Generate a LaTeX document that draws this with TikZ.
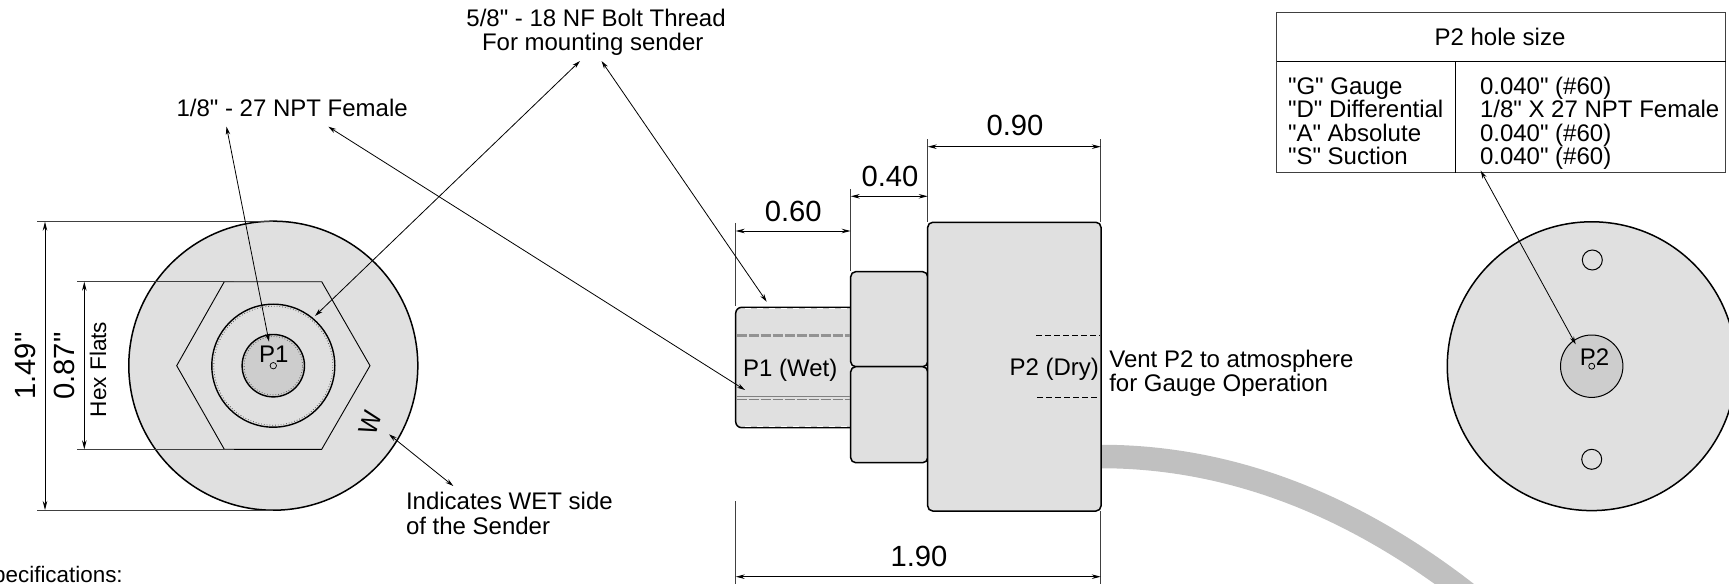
\documentclass[tikz,border=0pt]{standalone}
\usepackage{fontspec}
\newfontfamily\arialish{Liberation Sans}
\usetikzlibrary{arrows.meta}
\definecolor{partfill}{HTML}{E0E0E0}
\definecolor{portfill}{HTML}{CDCDCD}
\definecolor{cablegray}{HTML}{C0C0C0}
\definecolor{extgray}{HTML}{404040}
\tikzset{
  x=1bp,y=-1bp,
  lbl/.style={font=\arialish\fontsize{24bp}{23.4bp}\selectfont,inner sep=0pt,outer sep=0pt,text=black},
  dimlbl/.style={font=\arialish\fontsize{29.2bp}{30bp}\selectfont,inner sep=0pt,outer sep=0pt,text=black},
  part/.style={draw=black,fill=partfill,line width=1.5bp},
  port/.style={draw=black,fill=portfill,line width=1.3bp},
  plain/.style={draw=black,line width=1bp},
  ext/.style={draw=extgray,line width=0.9bp},
  call/.style={draw=black,line width=0.8bp,{Stealth[length=8bp,width=4.5bp]}-{Stealth[length=8bp,width=4.5bp]}},
  dimline/.style={draw=black,line width=0.9bp,{Stealth[length=9bp,width=4.5bp]}-{Stealth[length=9bp,width=4.5bp]}},
  thd/.style={draw=gray!70!black,line width=0.8bp,dotted},
  hid/.style={draw=black,line width=0.7bp,dash pattern=on 6bp off 3bp},
}
\begin{document}
\begin{tikzpicture}
\useasboundingbox (0,0) rectangle (1729,584);
\clip (0,0) rectangle (1729,584);
% cable
\draw[cablegray,line width=23.5bp] (1101,456.5) .. controls (1240,456.5) and (1370,512) .. (1490,612);
% left view
\coordinate (Lc) at (273.3,365.7);
\path[part] (Lc) circle (144.5bp);
\draw[plain,line width=0.9bp] (176.7,365.7) -- (224.3,281.7) -- (321.7,281.7) -- (370,365.7) -- (321.7,449.3) -- (224.3,449.3) -- cycle;
\draw[part,line width=1.4bp] (Lc) circle (61.5bp);
\draw[thd] (Lc) circle (59.5bp);
\draw[port,line width=1.4bp] (Lc) circle (31.2bp);
\draw[thd] (Lc) circle (29.2bp);
\draw[plain,line width=0.7bp] (Lc) circle (3.2bp);
\coordinate (e1a) at (37,221.7); \coordinate (e1b) at (273,221.7);
\coordinate (e2a) at (37,510);   \coordinate (e2b) at (273,510);
\draw[ext] (e1a) -- (e1b); \draw[ext] (e2a) -- (e2b);
\coordinate (e3a) at (77,281.7); \coordinate (e3b) at (234,281.7);
\coordinate (e4a) at (77,449.3); \coordinate (e4b) at (234,449.3);
\draw[ext] (e3a) -- (e3b); \draw[ext] (e4a) -- (e4b);
\draw[dimline] (45,221.7) -- (45,510);
\draw[dimline] (84.3,281.7) -- (84.3,449.3);
\node[dimlbl,rotate=90] (d149) at (25,366) {1.49"};
\node[dimlbl,rotate=90] (d087) at (64,366) {0.87"};
\node[lbl,rotate=90,font=\arialish\fontsize{22.6bp}{23bp}\selectfont] (hexflats) at (98,369.5) {Hex Flats};
\node[lbl,anchor=base] (p1) at (273.8,362) {P1};
\node[lbl,rotate=72] (wmark) at (370,423) {\scalebox{1}[1.1]{W}};
% side view
\draw[part,rounded corners=6bp] (850.7,307.3) -- (735.7,307.3) -- (735.7,427.7) -- (850.7,427.7);
\draw[part,rounded corners=5bp] (850.7,271.7) rectangle (927.7,366.7);
\draw[part,rounded corners=5bp] (850.7,366.7) rectangle (927.7,462.7);
\draw[part,rounded corners=5bp] (927.7,222.3) rectangle (1101,511);
% threads
\draw[draw=white,line width=1bp,dash pattern=on 6bp off 6bp] (745,308.8) -- (850,308.8);
\draw[draw=white,line width=1bp,dash pattern=on 6bp off 6bp] (745,426.2) -- (850,426.2);
\draw[draw=gray!85,line width=3.2bp,dash pattern=on 10bp off 2bp] (736.5,335.7) -- (850,335.7);
\draw[draw=gray,line width=0.9bp] (736.5,396.8) -- (850,396.8);
\draw[draw=gray,line width=1.4bp,dash pattern=on 10bp off 2bp] (736.5,399.5) -- (850,399.5);
\draw[hid] (1036,335) -- (1100,335);
\draw[hid] (1037,397.3) -- (1100,397.3);
\node[lbl,anchor=base west] (p1wet) at (743,376.5) {P1 (Wet)};
\node[lbl,anchor=base west] (p2dry) at (1009.5,375) {P2 (Dry)};
\node[lbl,anchor=base west] (vent1) at (1109.3,367.5) {Vent P2 to atmosphere};
\node[lbl,anchor=base west] (vent2) at (1109.3,391) {for Gauge Operation};
% dims
\draw[ext] (735.7,223) -- (735.7,306);
\draw[ext] (850.7,189) -- (850.7,271);
\draw[ext] (927.7,139.3) -- (927.7,222);
\draw[ext] (1100.8,139.3) -- (1100.8,222);
\draw[ext] (735.7,501) -- (735.7,584);
\draw[ext] (1100.8,511) -- (1100.8,584);
\draw[dimline] (735.7,231) -- (850.7,231);
\draw[dimline] (850.7,196.3) -- (927.7,196.3);
\draw[dimline] (927.7,146.7) -- (1100.8,146.7);
\draw[dimline] (735.7,576.7) -- (1100.8,576.7);
\node[dimlbl,anchor=base] (d060) at (793.3,221.5) {0.60};
\node[dimlbl,anchor=base] (d040) at (890,186.7) {0.40};
\node[dimlbl,anchor=base] (d090) at (1015,136) {0.90};
\node[dimlbl,anchor=base] (d190) at (919,566) {1.90};
% right view
\coordinate (Rc) at (1591.7,366.2);
\path[part] (Rc) circle (144.4bp);
\draw[port,line width=1bp] (Rc) circle (31.2bp);
\draw[plain,line width=0.8bp] (Rc) circle (3bp);
\draw[plain] (1592.3,260) circle (10bp);
\draw[plain] (1591.7,459.3) circle (10bp);
\node[lbl,anchor=base] (p2) at (1594.5,365) {P2};
% table
\draw[ext,line width=1.1bp] (1276.7,12.7) rectangle (1725.7,172.7);
\draw[draw=black,line width=1.6bp] (1276.7,61.7) -- (1725.7,61.7);
\draw[draw=black,line width=1bp] (1455.3,61.7) -- (1455.3,172.7);
\node[lbl,anchor=base] (ttl) at (1500,45.3) {P2 hole size};
\foreach \y/\a/\b in {94.3/{"G" Gauge}/{0.040" (\#60)},118/{"D" Differential}/{1/8" X 27 NPT Female},141.5/{"A" Absolute}/{0.040" (\#60)},165/{"S" Suction}/{0.040" (\#60)}}{
  \node[lbl,anchor=base west] at (1288,\y) {\a};
  \node[lbl,anchor=base west] at (1480,\y) {\b};
}
% callouts
\node[lbl,anchor=base west] (boltA) at (466.4,26.5) {5/8" - 18 NF Bolt Thread};
\node[lbl,anchor=base west] (boltB) at (482,50.6) {For mounting sender};
\node[lbl,anchor=base west] (npt) at (176.5,116.7) {1/8" - 27 NPT Female};
\node[lbl,anchor=base west] (wet1) at (406,509) {Indicates WET side};
\node[lbl,anchor=base west] (wet2) at (406,534) {of the Sender};
\node[lbl,anchor=base east,font=\arialish\fontsize{22.4bp}{24bp}\selectfont] (spec) at (122.7,582.3) {Specifications:};
\draw[call] (226.5,126.7) -- (269,341.7);
\draw[call] (745,390) -- (328.3,126.7);
\draw[call] (580,61) -- (315,316);
\draw[call] (766.7,301.7) -- (601.5,61);
\draw[call] (1480.7,170.7) -- (1575.7,344.3);
\draw[call] (389,434.3) -- (453.3,486);
\end{tikzpicture}
\end{document}
